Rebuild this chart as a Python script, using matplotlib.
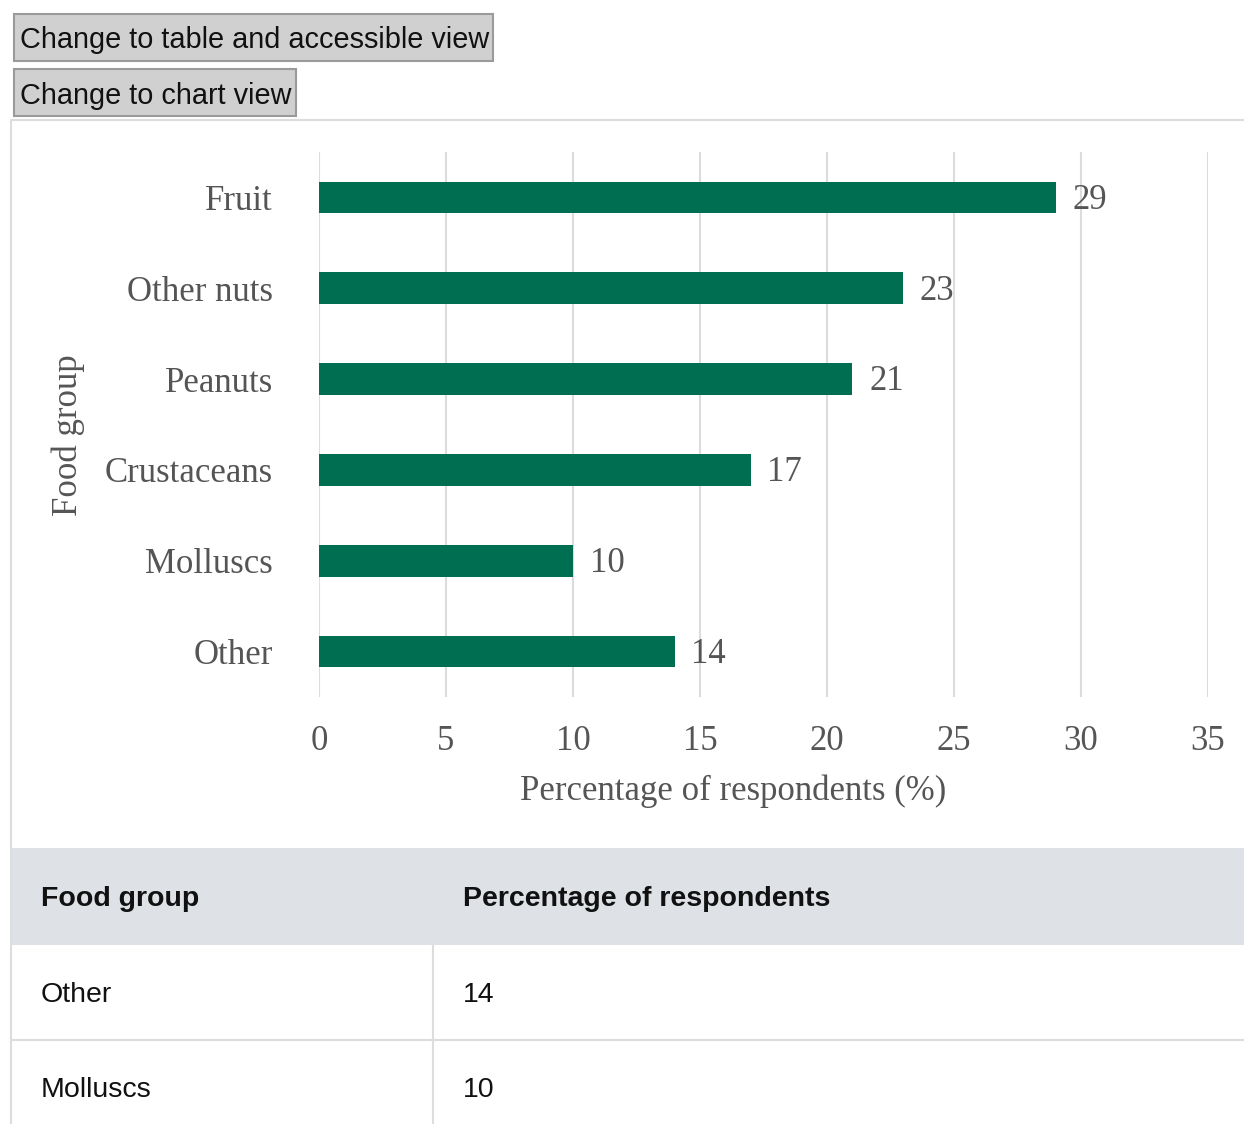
import matplotlib
matplotlib.use("Agg")
import matplotlib.pyplot as plt
from matplotlib.patches import Rectangle

# data
categories = ["Other", "Molluscs", "Crustaceans", "Peanuts", "Other nuts", "Fruit"]
values = [14, 10, 17, 21, 23, 29]
x_ticks = [0, 5, 10, 15, 20, 25, 30, 35]
x_label = "Percentage of respondents (%)"
y_label = "Food group"
table_headers = ["Food group", "Percentage of respondents"]
buttons = ["Change to table and accessible view", "Change to chart view"]

W, H = 1244, 1124
fig = plt.figure(figsize=(W / 100, H / 100), dpi=100)

# page layer in pixel coordinates
bg = fig.add_axes([0, 0, 1, 1])
bg.set_xlim(0, W)
bg.set_ylim(H, 0)
bg.axis("off")

sans = "Liberation Sans"
serif = "Liberation Serif"
grey_txt = "#555555"

# buttons
btn_boxes = [(14, 14, 479, 47), (14, 69, 282, 47)]
for (bx, by, bw, bh), txt in zip(btn_boxes, buttons):
    bg.add_patch(Rectangle((bx, by), bw, bh, facecolor="#d0d0d0",
                           edgecolor="#9a9a9a", linewidth=1.5))
    bg.text(bx + 6, by + bh / 2 + 3, txt, fontsize=20.8, family=sans,
            color="#111111", va="center", ha="left")

# chart container border
bg.plot([11, 11, 1244], [848, 120, 120], color="#dddddd", linewidth=1.5)

# table
bg.add_patch(Rectangle((11, 848), W - 11, 97, facecolor="#dee2e6",
                       edgecolor="none"))
bg.text(41, 899, table_headers[0], fontsize=20.5, family=sans,
        fontweight="bold", color="#111111", va="center")
bg.text(463, 899, table_headers[1], fontsize=20.5, family=sans,
        fontweight="bold", color="#111111", va="center")
row_h = 94.5
for i, (cat, val) in enumerate(zip(categories, values)):
    top = 945 + i * row_h
    if top > H:
        break
    bg.text(41, top + row_h / 2 + 3, cat, fontsize=20.5, family=sans,
            color="#111111", va="center", clip_on=True)
    bg.text(463, top + row_h / 2 + 3, str(val), fontsize=20.5, family=sans,
            color="#111111", va="center", clip_on=True)
    bg.plot([11, W], [top + row_h, top + row_h], color="#dddddd",
            linewidth=1.5)
bg.plot([433, 433], [945, H], color="#dddddd", linewidth=1.5)
bg.plot([11, 11], [848, H], color="#dddddd", linewidth=1.5)

# chart
ax = fig.add_axes([319 / W, 1 - 697 / H, (1208 - 319) / W, (697 - 152) / H])
ax.patch.set_alpha(0)
ypos = list(range(len(categories)))
ax.barh(ypos, values, height=0.35, color="#006f51", zorder=3)
for y, v in zip(ypos, values):
    ax.annotate(str(v), (v, y), xytext=(12, -2), textcoords="offset points",
                fontsize=25, family=serif, color=grey_txt,
                va="center", ha="left", zorder=4)

ax.set_xlim(0, 35)
ax.set_ylim(-0.5, len(categories) - 0.5)
ax.set_xticks(x_ticks)
ax.set_xticklabels([str(t) for t in x_ticks], fontsize=25, family=serif,
                   color=grey_txt)
ax.set_yticks(ypos)
ax.set_yticklabels(categories, fontsize=25, family=serif, color=grey_txt)
ax.tick_params(axis="both", length=0)
ax.tick_params(axis="x", pad=20)
ax.tick_params(axis="y", pad=33)
ax.xaxis.grid(True, color="#dcdcdc", linewidth=1.5, zorder=0)
ax.set_axisbelow(True)
for s in ax.spines.values():
    s.set_visible(False)
ax.set_xlabel(x_label, fontsize=25, family=serif, color=grey_txt, va="center")
ax.xaxis.set_label_coords(0.466, -0.1725)
ax.set_ylabel(y_label, fontsize=25, family=serif, color=grey_txt, va="center")
ax.yaxis.set_label_coords(-0.282, 0.481)

fig.savefig("out.png", dpi=100)
